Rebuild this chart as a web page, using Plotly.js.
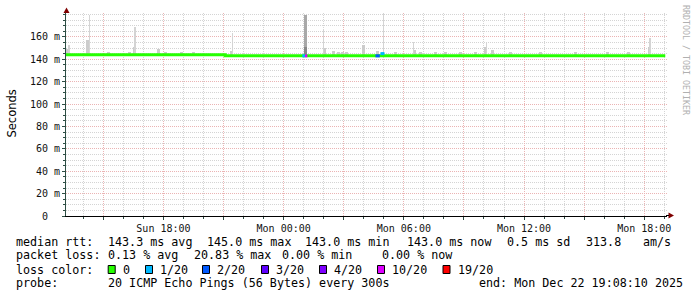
<!DOCTYPE html>
<html><head><meta charset="utf-8">
<script src="https://cdn.plot.ly/plotly-3.0.1.min.js"></script>
<style>html,body{margin:0;padding:0;background:#fff;}#chart{width:697px;height:297px;}</style>
</head><body><div id="chart"></div>
<script>
// ---------- data ----------
const rangeStart = '2025-12-21 13:08:10';
const rangeEnd   = '2025-12-22 19:08:10';

const medianTime  = ['2025-12-21 13:08:10', '2025-12-21 21:05', '2025-12-22 19:03'];
const medianValue = [144, 143, 143];

const smokeBarTime = ['2025-12-21 13:13','2025-12-21 14:14','2025-12-21 15:14','2025-12-21 16:17','2025-12-21 16:33',
  '2025-12-21 17:44','2025-12-21 18:05','2025-12-21 18:53','2025-12-21 19:29','2025-12-21 21:23',
  '2025-12-22 02:01','2025-12-22 02:29','2025-12-22 02:44','2025-12-22 02:56','2025-12-22 03:08',
  '2025-12-22 03:58','2025-12-22 04:42','2025-12-22 05:35','2025-12-22 06:31','2025-12-22 06:50',
  '2025-12-22 07:35','2025-12-22 08:05','2025-12-22 08:50','2025-12-22 09:35','2025-12-22 10:05',
  '2025-12-22 10:26','2025-12-22 11:20','2025-12-22 12:50','2025-12-22 14:35','2025-12-22 16:10',
  '2025-12-22 17:14','2025-12-22 18:16'];
const smokeBarTop = [149.5,157,146,146.7,151, 149,146,146,146,147.6, 149.7,147.3,146.7,146.7,146.7,
  152.7,147.6,146,148.5,146, 146,146,146,146,150.6, 148.2,146,146,146,146.5, 146,151];

const smokeSpikeTime = ['2025-12-21 13:17','2025-12-21 14:18','2025-12-21 16:35','2025-12-21 21:28',
  '2025-12-22 02:00','2025-12-22 04:58','2025-12-22 06:30','2025-12-22 10:07','2025-12-22 18:17'];
const smokeSpikeTop = [153,179.5,169,163, 167,180,155.6,155.6,158.6];

const smokeDarkTime = ['2025-12-22 01:06'];
const smokeDarkTop  = [179.5];
const smokeCoreTop  = [151];

const lossStart = ['2025-12-22 00:56','2025-12-22 01:04','2025-12-22 04:35','2025-12-22 04:50'];
const lossEnd   = ['2025-12-22 01:04','2025-12-22 01:11','2025-12-22 04:48','2025-12-22 05:02'];
const lossValue = [143, 143, 143, 145];
const lossLevel = [1, 5, 2, 1];   // index into lossLabels

const lossLabels = ['0','1/20','2/20','3/20','4/20','10/20','19/20'];

const yTickVals = [0,20,40,60,80,100,120,140,160];
const yTickText = ['0\u00a0\u00a0','20 m','40 m','60 m','80 m','100 m','120 m','140 m','160 m'];

const xTickVals = ['2025-12-21 15:00','2025-12-21 18:00','2025-12-21 21:00','2025-12-22 00:00','2025-12-22 03:00',
  '2025-12-22 06:00','2025-12-22 09:00','2025-12-22 12:00','2025-12-22 15:00','2025-12-22 18:00'];
const xTickText = ['','Sun 18:00','','Mon 00:00','','Mon 06:00','','Mon 12:00','','Mon 18:00'];

const statsRtt  = ['median rtt:','143.3 ms avg','145.0 ms max','143.0 ms min','143.0 ms now','0.5 ms sd','313.8','am/s'];
const statsLoss = ['packet loss:','0.13 % avg','20.83 % max','0.00 % min','0.00 % now'];
const probeText = ['probe:','20 ICMP Echo Pings (56 Bytes) every 300s','end: Mon Dec 22 19:08:10 2025'];

// ---------- styles ----------
const lossColors = ['#26ff00','#00b8ff','#0059ff','#5e00ff','#7e00ff','#dd00ff','#ff0000'];
const W = 697, H = 297, L = 66, R = 30, T = 13, B = 81;
const PW = W - L - R, PH = H - T - B;
const X = px => (px - L) / PW;
const Y = py => (H - B - py) / PH;
const MONO = 'DejaVu Sans Mono';
const HOUR = 3600000;

const toMs = s => new Date(s.replace(' ', 'T')).getTime();
function medianAt(s) {
  const t = toMs(s); let v = medianValue[0];
  for (let i = 0; i < medianTime.length; i++) if (toMs(medianTime[i]) <= t) v = medianValue[i];
  return v;
}
function barTrace(times, tops, width, color) {
  const base = times.map(medianAt);
  return {type:'bar', x: times, y: tops.map((v,i)=>v-base[i]), base: base, width: times.map(()=>width),
    marker:{color: color, line:{width:0}}, hoverinfo:'skip'};
}

const traces = [
  barTrace(smokeBarTime, smokeBarTop, 0.15*HOUR, '#cccccc'),
  barTrace(smokeSpikeTime, smokeSpikeTop, 0.06*HOUR, '#d4d4d4'),
  barTrace(smokeDarkTime, smokeDarkTop, 0.12*HOUR, '#a8a8a8'),
  barTrace(smokeDarkTime, smokeCoreTop, 0.12*HOUR, '#888888'),
  {type:'scatter', mode:'lines', x: medianTime, y: medianValue, line:{color: lossColors[0], width:3, shape:'hv'}, hoverinfo:'skip'}
];
lossColors.forEach((c, lvl) => {
  const xs = [], ys = [];
  lossLevel.forEach((l, i) => { if (l === lvl) { xs.push(lossStart[i], lossEnd[i], null); ys.push(lossValue[i], lossValue[i], null); } });
  if (xs.length) traces.push({type:'scatter', mode:'lines', x: xs, y: ys, line:{color:c, width:3}, hoverinfo:'skip'});
});

const ann = [];
function txt(text, px, py, extra) {
  ann.push(Object.assign({text: text, xref:'paper', yref:'paper', x: X(px), y: Y(py), xanchor:'left', yanchor:'middle',
    showarrow:false, borderpad:0, font:{family:MONO, size:11.7, color:'#000'}}, extra || {}));
}
const rttX = [16,108.3,206.7,305,407,507,586,643];
statsRtt.forEach((s,i)=>txt(s, rttX[i]-1, 241.5));
const lossX = [16,108.3,194.3,281.7,381.7];
statsLoss.forEach((s,i)=>txt(s, lossX[i]-1, 255.5));
txt('loss color:', 15, 269.5);
const sqX = [107.7,145,202,261,319,377,442.5];
const shapes = [];
lossLabels.forEach((lab,i)=>{
  shapes.push({type:'rect', xref:'paper', yref:'paper', x0:X(sqX[i]+0.5), x1:X(sqX[i]+7.5), y0:Y(273.5), y1:Y(265.5),
    line:{color:'#000', width:1}, fillcolor: lossColors[i]});
  txt(lab, sqX[i]+14, 269.5);
});
const probeX = [16,108.3,478.7];
probeText.forEach((s,i)=>txt(s, probeX[i]-1, 283));
ann.push({text:'Seconds', xref:'paper', yref:'paper', x:X(11), y:Y(113.5), xanchor:'center', yanchor:'middle', textangle:-90,
  showarrow:false, font:{family:'DejaVu Sans', size:11.5, color:'#000'}});
ann.push({text:'RRDTOOL / TOBI OETIKER', xref:'paper', yref:'paper', x:X(686), y:Y(60), xanchor:'center', yanchor:'middle', textangle:90,
  showarrow:false, font:{family:MONO, size:8.3, color:'#b0b0b0'}});

// axis arrows
const path = pts => 'M' + pts.map(p => X(p[0]) + ',' + Y(p[1])).join('L') + 'Z';
shapes.push({type:'path', xref:'paper', yref:'paper', path: path([[66.5,7.5],[63.5,13],[69.5,13]]), fillcolor:'#7f0000', line:{width:0}});
shapes.push({type:'path', xref:'paper', yref:'paper', path: path([[674,215.5],[668.5,212.5],[668.5,218.5]]), fillcolor:'#7f0000', line:{width:0}});
shapes.push({type:'line', xref:'paper', yref:'paper', x0:X(666), x1:X(669), y0:Y(215.5), y1:Y(215.5), line:{color:'#000', width:1}});

const layout = {
  width: W, height: H, margin:{l:L, r:R, t:T, b:B, pad:0},
  paper_bgcolor:'#fff', plot_bgcolor:'#fff', showlegend:false, barmode:'overlay', bargap:0,
  xaxis:{type:'date', range:[rangeStart, rangeEnd], tickmode:'array', tickvals:xTickVals, ticktext:xTickText,
    showgrid:true, gridcolor:'#ebb4b4', griddash:'1px,1px', gridwidth:1,
    minor:{tickmode:'linear', tick0:'2025-12-21 00:00', dtick:HOUR, showgrid:true, gridcolor:'#d4d4d4', griddash:'1px,1px',
      ticks:'outside', ticklen:2, tickcolor:'#2c4d43'},
    ticks:'outside', ticklen:3, tickcolor:'#2c4d43', showline:true, linecolor:'#000', linewidth:1, zeroline:false,
    tickfont:{family:MONO, size:10, color:'#111'}, fixedrange:true},
  yaxis:{range:[0,181.25], tickmode:'array', tickvals:yTickVals, ticktext:yTickText,
    showgrid:true, gridcolor:'#ebb4b4', griddash:'1px,1px', gridwidth:1,
    minor:{tickmode:'linear', tick0:0, dtick:5, showgrid:true, gridcolor:'#d4d4d4', griddash:'1px,1px',
      ticks:'outside', ticklen:2, tickcolor:'#2c4d43'},
    ticks:'outside', ticklen:3, tickcolor:'#2c4d43', showline:true, linecolor:'#2c4d43', linewidth:1, zeroline:false,
    tickfont:{family:MONO, size:10, color:'#111'}, fixedrange:true},
  annotations: ann, shapes: shapes
};
Plotly.newPlot('chart', traces, layout, {staticPlot:true, displayModeBar:false});
</script></body></html>
